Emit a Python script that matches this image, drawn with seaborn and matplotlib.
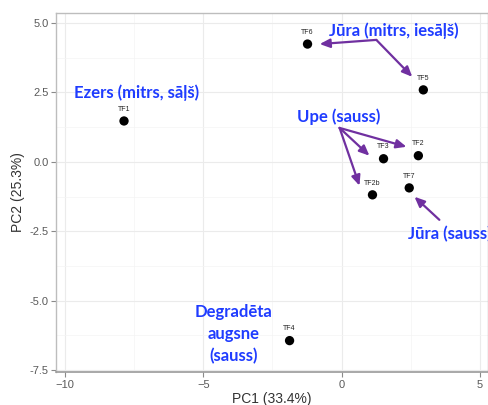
import matplotlib
matplotlib.use("Agg")
import matplotlib.pyplot as plt
import seaborn as sns
import pandas as pd
from matplotlib.ticker import MultipleLocator

samples = ["TF1", "TF6", "TF5", "TF2", "TF3", "TF2b", "TF7", "TF4"]
pc1 = [-7.87, -1.23, 2.96, 2.78, 1.52, 1.12, 2.45, -1.88]
pc2 = [1.47, 4.24, 2.59, 0.22, 0.11, -1.19, -0.94, -6.44]

df = pd.DataFrame({"PC1": pc1, "PC2": pc2, "sample": samples})

sns.set_theme(style="white")
plt.rcParams['font.family'] = ['Liberation Sans', 'DejaVu Sans']

fig = plt.figure(figsize=(4.88, 4.05), dpi=100)
ax = fig.add_axes([0.1148, 0.0815, 0.8852, 0.8865])

ax.set_xlim(-10.33, 5.3)
ax.set_ylim(-7.57, 5.36)
ax.xaxis.set_major_locator(MultipleLocator(5))
ax.xaxis.set_minor_locator(MultipleLocator(2.5))
ax.yaxis.set_major_locator(MultipleLocator(2.5))
ax.yaxis.set_minor_locator(MultipleLocator(1.25))
ax.grid(which="major", color="#ebebeb", linewidth=0.8)
ax.grid(which="minor", color="#f4f4f4", linewidth=0.5)
ax.set_axisbelow(True)
for s in ["top", "left", "right"]:
    ax.spines[s].set_color("#bdbdbd")
    ax.spines[s].set_linewidth(1.0)
ax.spines["bottom"].set_color("#9a9a9a")
ax.spines["bottom"].set_linewidth(1.2)

ax.tick_params(which="major", axis="both", length=3.5, width=0.8, color="#8a8a8a",
               labelsize=8, labelcolor="#5a5a5a", pad=2, bottom=True, left=True)
ax.tick_params(which="minor", length=0)
ax.yaxis.set_major_formatter(matplotlib.ticker.FormatStrFormatter("%.1f"))

sns.scatterplot(data=df, x="PC1", y="PC2", color="black", s=45, edgecolor="none", ax=ax, zorder=3)
for name, x, y in zip(samples, pc1, pc2):
    ax.annotate(name, (x, y), xytext=(0, 6), textcoords="offset points",
                ha="center", va="bottom", fontsize=5, color="#222222")

ax.set_xlabel("PC1 (33.4%)", fontsize=10, color="#333333", labelpad=2)
ax.set_ylabel("PC2 (25.3%)", fontsize=10, color="#333333", labelpad=3)

blue = "#1f3cff"
purple = "#7030a0"
tfont = dict(family=["Lato", "DejaVu Sans"], fontweight="bold", color=blue, fontsize=12)

ax.text(1.91, 4.71, "Jūra (mitrs, iesāļš)", ha="center", va="center", **tfont)
ax.text(-7.40, 2.48, "Ezers (mitrs, sāļš)", ha="center", va="center", **tfont)
ax.text(-0.11, 1.62, "Upe (sauss)", ha="center", va="center", **tfont)
ax.text(2.42, -2.59, "Jūra (sauss)", ha="left", va="center", **tfont)
ax.text(-3.90, -6.22, "Degradēta\naugsne\n(sauss)", ha="center", va="center",
        linespacing=1.45, **tfont)

arrows = [
    ((1.26, 4.39), (-0.79, 4.24)),
    ((1.26, 4.39), (2.56, 3.06)),
    ((-0.07, 1.22), (2.35, 0.54)),
    ((-0.07, 1.22), (1.01, 0.22)),
    ((-0.07, 1.22), (0.65, -0.86)),
    ((3.54, -2.09), (2.64, -1.26)),
]
for start, end in arrows:
    ax.annotate("", xy=end, xytext=start,
                arrowprops=dict(arrowstyle="-|>,head_length=0.5,head_width=0.22",
                                color=purple, lw=1.6, shrinkA=0, shrinkB=0))

fig.savefig("out.png", dpi=100)
